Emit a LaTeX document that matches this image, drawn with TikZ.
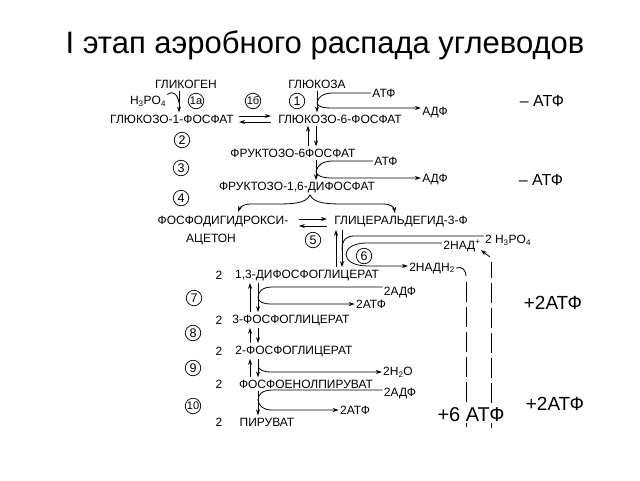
\documentclass[tikz,border=0pt]{standalone}
\usepackage{fontspec}
\setmainfont{Liberation Sans}
\usepackage{tikz}
\usetikzlibrary{arrows.meta, positioning}

\tikzset{
  lbl/.style={inner sep=1pt, font=\fontsize{12}{14}\selectfont},
  num/.style={draw, circle, inner sep=0pt, minimum size=15.5pt, line width=0.7pt, font=\fontsize{12.5}{12.5}\selectfont},
  big/.style={inner sep=1pt, font=\fontsize{19}{21}\selectfont},
  arr/.style={-{Stealth[length=6pt,width=4pt]}},
  vert/.style={arr, shorten <=1pt, shorten >=1pt},
  chain/.style={dash pattern=on 20pt off 5pt},
}

\begin{document}
\begin{tikzpicture}[x=1pt, y=-1pt, line width=0.8pt]
\useasboundingbox (0,0) rectangle (640,480);
\node[font=\fontsize{31}{36}\selectfont, anchor=base] (title) at (325,53) {I этап аэробного распада углеводов};

% glucose, glycogen
\node[lbl] (glycogen) at (186,84) {ГЛИКОГЕН};
\node[lbl] (glucose) at (317,84) {ГЛЮКОЗА};
\node[lbl] (hpo) at (148,101) {H\textsubscript{3}PO\textsubscript{4}};
\node[num, font=\fontsize{11}{11}\selectfont] (n1a) at (196,101) {1а};
\node[num, font=\fontsize{11}{11}\selectfont] (n1b) at (253,101) {1б};
\node[num] (n1) at (297,101) {1};
\node[lbl] (gl1p) at (172,119) {ГЛЮКОЗО-1-ФОСФАТ};
\node[lbl] (gl6p) at (340,119) {ГЛЮКОЗО-6-ФОСФАТ};
\node[lbl] (atp1) at (384,93) {АТФ};
\node[lbl] (adp1) at (435,113) {АДФ};
\node[big, font=\fontsize{16}{18}\selectfont] (minus1) at (542,101) {– АТФ};

% fructose
\node[num] (n2) at (182,140) {2};
\node[lbl] (f6p) at (293,153) {ФРУКТОЗО-6ФОСФАТ};
\node[lbl] (atp2) at (386,161) {АТФ};
\node[num] (n3) at (181,168) {3};
\node[lbl] (f16p) at (297,188) {ФРУКТОЗО-1,6-ДИФОСФАТ};
\node[lbl] (adp2) at (435,180) {АДФ};
\node[big, font=\fontsize{16}{18}\selectfont] (minus2) at (541,180) {– АТФ};
\node[num] (n4) at (181,198) {4};

% trioses
\node[lbl] (dhap) at (223,222) {ФОСФОДИГИДРОКСИ-};
\node[lbl, below=4pt of dhap, xshift=-12pt] (aceton) {АЦЕТОН};
\node[lbl] (gap) at (401,222) {ГЛИЦЕРАЛЬДЕГИД-3-Ф};
\node[num] (n5) at (313,240) {5};
\node[lbl] (hpo2) at (508,240) {2 H\textsubscript{3}PO\textsubscript{4}};
\node[lbl] (nad) at (462,246) {2НАД\textsuperscript{+}};
\node[num] (n6) at (364,256) {6};
\node[lbl] (nadh) at (432,268) {2НАДН\textsubscript{2}};

% lower rows
\node[lbl] (k1) at (219,275) {2};
\node[lbl] (dpg13) at (307,275) {1,3-ДИФОСФОГЛИЦЕРАТ};
\node[num] (n7) at (194,298) {7};
\node[lbl] (adp3) at (400,292) {2АДФ};
\node[lbl] (atp3) at (371,304) {2АТФ};
\node[big] (plus2a) at (553,303) {+2АТФ};
\node[lbl] (k2) at (219,320) {2};
\node[lbl] (pg3) at (291,320) {3-ФОСФОГЛИЦЕРАТ};
\node[num] (n8) at (193,333) {8};
\node[lbl] (k3) at (219,351) {2};
\node[lbl] (pg2) at (294,351) {2-ФОСФОГЛИЦЕРАТ};
\node[num] (n9) at (193,368) {9};
\node[lbl] (water) at (398,372) {2H\textsubscript{2}O};
\node[lbl] (k4) at (219,384) {2};
\node[lbl] (pep) at (306,384) {ФОСФОЕНОЛПИРУВАТ};
\node[lbl] (adp4) at (400,393) {2АДФ};
\node[num, font=\fontsize{11}{11}\selectfont] (n10) at (193,406) {10};
\node[lbl] (atp4) at (355,410) {2АТФ};
\node[big] (plus2b) at (555,404) {+2АТФ};
\node[lbl] (k5) at (219,422) {2};
\node[lbl] (pyr) at (267,422) {ПИРУВАТ};

% glycogen -> glucose-1-p
\draw[vert] (179,0 |- glycogen.south) -- (179,0 |- gl1p.north);
\draw (hpo.north east) .. controls (172,90) and (178,94) .. (179,103);
\draw[arr] ([xshift=4pt,yshift=3pt]gl1p.east) -- ([xshift=-6pt,yshift=3pt]gl6p.west);
\draw[arr] ([xshift=-6pt,yshift=-3pt]gl6p.west) -- ([xshift=4pt,yshift=-3pt]gl1p.east);

% glucose -> glucose-6-p
\draw[vert] (glucose.south) -- (glucose.south |- gl6p.north);
\draw (atp1.west) -- (333,93) .. controls (323,93) and (318,97) .. (317,103);
\draw[arr] (317,103) .. controls (318,107) and (323,108) .. (333,108) -- ([yshift=5pt]adp1.west);

% glucose-6-p <-> fructose-6-p
\draw[vert] (308,0 |- f6p.north) -- (308,0 |- gl6p.south);
\draw[vert] (316,0 |- gl6p.south) -- (316,0 |- f6p.north);

% fructose-6-p -> fructose-1,6-p
\draw[vert] (316,0 |- f6p.south) -- (316,0 |- f16p.north);
\draw (atp2.west) -- (333,161) .. controls (323,161) and (317,165) .. (316,172);
\draw[arr] (316,172) .. controls (317,176) and (322,178) .. (333,178) -- ([yshift=2pt]adp2.west);

% split
\draw[arr] ([xshift=13pt]f16p.south) .. controls (306,204) and (292,204) .. (272,204) -- (250,204) .. controls (244,204) and (240,207) .. (238,212);
\draw[arr] ([xshift=13pt]f16p.south) .. controls (314,204) and (328,204) .. (348,204) -- (384,204) .. controls (390,204) and (394,207) .. (395,213);
\draw[arr] ([xshift=-34pt,yshift=3pt]gap.west) -- ([xshift=-6pt,yshift=3pt]gap.west);
\draw[arr] ([xshift=-6pt,yshift=-4pt]gap.west) -- ([xshift=-34pt,yshift=-4pt]gap.west);

% glyceraldehyde-3-p <-> 1,3-dpg
\draw[vert] (336,0 |- dpg13.north) -- (336,0 |- gap.south);
\draw[vert] (342,0 |- gap.south) -- (342,0 |- dpg13.north);
\draw ([yshift=4pt]hpo2.west) -- (354,236) .. controls (346,236) and (342,240) .. (342,250);
\draw[arr] ([yshift=3pt]nad.west) -- (366,243) .. controls (340,243) and (338,266) .. (368,266) -- ([yshift=2pt]nadh.west);

% respiratory chain
\draw (nadh.east) .. controls (462,266) and (466,270) .. (466,276);
\draw[chain] (466,282) -- (466,428);
\draw[chain] (491,428) -- (491,262);
\draw[arr] (490,257) -- ([xshift=-1pt,yshift=3pt]nad.south east);
\node[big, font=\fontsize{20}{22}\selectfont, fill=white] (plus6) at (471,415) {+6 АТФ};

% 1,3-dpg -> 3-pg
\draw[vert] (250,0 |- pg3.north) -- (250,0 |- dpg13.south);
\draw[vert] (258,0 |- dpg13.south) -- (258,0 |- pg3.north);
\draw ([yshift=5pt]adp3.west) -- (272,287) .. controls (262,287) and (258,292) .. (258,298);
\draw[arr] (258,298) .. controls (259,302) and (263,304) .. (272,304) -- (atp3.west);

% 3-pg <-> 2-pg
\draw[vert] (250,0 |- pg2.north) -- (250,0 |- pg3.south);
\draw[vert] (258,0 |- pg3.south) -- (258,0 |- pg2.north);

% 2-pg <-> pep
\draw[vert] (250,0 |- pep.north) -- (250,0 |- pg2.south);
\draw[vert] (258,0 |- pg2.south) -- (258,0 |- pep.north);
\draw[arr] (258,366) .. controls (259,370) and (263,372) .. (272,372) -- (water.west);

% pep -> pyruvate
\draw[vert] (258,0 |- pep.south) -- (258,0 |- pyr.north);
\draw ([yshift=3pt]adp4.west) -- (272,390) .. controls (262,390) and (258,395) .. (258,400);
\draw[arr] (258,400) .. controls (259,406) and (263,410) .. (272,410) -- (atp4.west);
\end{tikzpicture}
\end{document}
